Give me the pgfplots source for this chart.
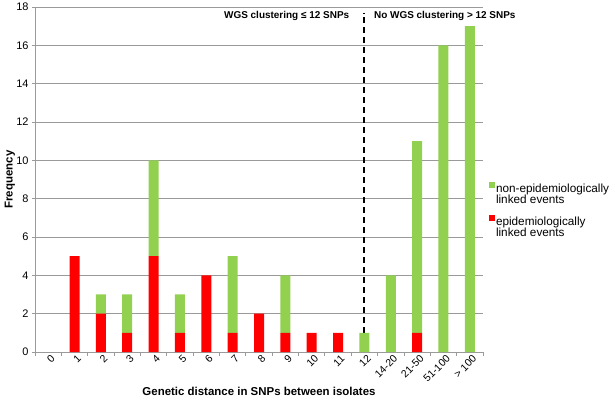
\documentclass[border=0pt]{standalone}
\usepackage{pgfplots}
\pgfplotsset{compat=1.18}
\usepackage{fontspec}
\setmainfont{Liberation Sans}
\definecolor{barred}{HTML}{FF0000}
\definecolor{bargreen}{HTML}{92D050}
\definecolor{gridc}{HTML}{9A9A9A}
\begin{document}
\begin{tikzpicture}
\path[use as bounding box] (0,0) rectangle (615bp,401bp);
\begin{axis}[
  at={(35bp,49bp)}, anchor=south west,
  scale only axis, width=448bp, height=345bp,
  ybar stacked, bar width=10bp,
  xmin=-0.5, xmax=16.5, ymin=0, ymax=18,
  clip=false,
  axis x line*=bottom, axis y line*=left,
  axis line style={gridc, line width=0.8bp},
  xtick={0,...,16},
  xticklabels={0,1,2,3,4,5,6,7,8,9,10,11,12,14-20,21-50,51-100,> 100},
  x tick label style={rotate=45, anchor=north east, inner sep=1bp, font=\fontsize{10.5}{12}\selectfont, xshift=3bp},
  major x tick style={draw=none},
  minor xtick={-0.5,0.5,...,16.5},
  minor x tick style={gridc, line width=0.8bp},
  minor tick length=4bp,
  tick align=outside,
  ytick={0,2,...,18},
  y tick label style={font=\fontsize{11}{13}\selectfont},
  major y tick style={gridc, line width=0.8bp},
  major tick length=3bp,
  ymajorgrids, grid style={gridc, line width=0.8bp},
  /pgf/number format/assume math mode=true,
  xlabel={\bfseries Genetic distance in SNPs between isolates},
  xlabel style={at={(axis description cs:0.5,0)}, anchor=north, yshift=-32bp, font=\fontsize{11.5}{13}\selectfont},
  ylabel={\bfseries Frequency},
  ylabel style={at={(axis description cs:-0.056,0.5)}, anchor=center, font=\fontsize{11.5}{13}\selectfont},
  legend style={at={(rel axis cs:1.013,0.493)}, anchor=north west, draw=none, fill=none,
     font=\fontsize{11.8}{13.5}\selectfont, row sep=20bp, inner sep=0pt,
     nodes={inner sep=1bp}},
  legend cell align=left,
  legend image code/.code={\fill[#1] (0bp,0.5bp) rectangle (6bp,6.5bp);},
  reverse legend,
]
\addplot[fill=barred, draw=none] coordinates {
 (0,0) (1,5) (2,2) (3,1) (4,5) (5,1) (6,4) (7,1) (8,2) (9,1) (10,1) (11,1) (12,0) (13,0) (14,1) (15,0) (16,0)};
\addlegendentry{\begin{tabular}[t]{@{}l@{}}epidemiologically\\[-2.5pt]linked events\end{tabular}}
\addplot[fill=bargreen, draw=none] coordinates {
 (0,0) (1,0) (2,1) (3,2) (4,5) (5,2) (6,0) (7,4) (8,0) (9,3) (10,0) (11,0) (12,1) (13,4) (14,10) (15,16) (16,17)};
\addlegendentry{\begin{tabular}[t]{@{}l@{}}non-epidemiologically\\[-2.5pt]linked events\end{tabular}}
\draw[black, line width=2bp, dash pattern=on 6bp off 4bp] (axis cs:12,1) -- (axis cs:12,17.7);
\node[font=\fontsize{10}{12}\selectfont\bfseries] at (axis cs:9.05,17.55) {WGS clustering ≤ 12 SNPs};
\node[font=\fontsize{10}{12}\selectfont\bfseries] at (axis cs:15.05,17.55) {No WGS clustering > 12 SNPs};
\end{axis}
\end{tikzpicture}
\end{document}
